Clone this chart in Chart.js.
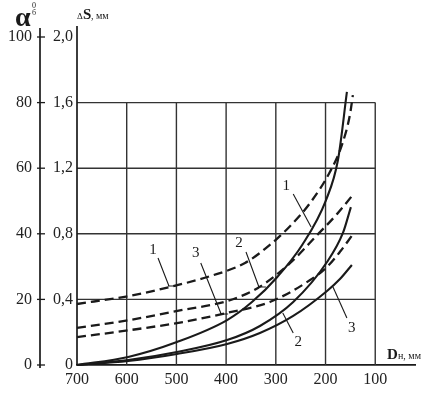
<!DOCTYPE html>
<html><head><meta charset="utf-8">
<script src="https://cdn.jsdelivr.net/npm/chart.js@4.4.1/dist/chart.umd.min.js"></script>
<style>html,body{margin:0;padding:0;background:#fff}#wrap{width:442px;height:394px}</style>
</head><body><div id="wrap"><canvas id="c" width="442" height="394"></canvas></div>
<script>
// Tick labels
const xTicks = [700, 600, 500, 400, 300, 200, 100];
const dsTicks = [0, 0.4, 0.8, 1.2, 1.6, 2.0];
const alphaTicks = [0, 20, 40, 60, 80, 100];
const gridD = [600, 500, 400, 300, 200, 100];
const gridS = [0.4, 0.8, 1.2, 1.6];

// Dashed curves (angle alpha, degrees)
const dashed1D = [700, 597, 513, 432, 362, 312, 271, 231, 191, 167, 151, 145];
const dashed1A = [18.6, 21.0, 23.8, 27.1, 31.1, 36.6, 42.4, 49.4, 58.9, 67.1, 76.2, 82.3];
const dashed2D = [700, 595, 487, 398, 336, 271, 217, 177, 147];
const dashed2A = [11.3, 13.7, 16.8, 19.5, 23.5, 31.1, 39.6, 46.0, 51.5];
const dashed3D = [700, 595, 487, 398, 312, 231, 197, 171, 147];
const dashed3A = [8.5, 10.6, 13.1, 15.9, 19.2, 25.9, 29.9, 34.5, 39.4];

// Solid curves (ΔS, mm)
const solid1D = [700, 597, 499, 398, 348, 297, 247, 199, 175, 157];
const solid1S = [0, 0.049, 0.140, 0.274, 0.384, 0.537, 0.732, 1.006, 1.250, 1.665];
const solid2D = [700, 597, 499, 398, 332, 265, 197, 165, 149];
const solid2S = [0, 0.030, 0.079, 0.152, 0.238, 0.384, 0.628, 0.805, 0.963];
const solid3D = [700, 597, 499, 398, 332, 265, 197, 171, 147];
const solid3S = [0, 0.024, 0.067, 0.128, 0.195, 0.299, 0.451, 0.524, 0.610];

// Curve labels: [text, D, ΔS of label centre, leader start D, ΔS, leader end D, ΔS, end serif]
const curveLabels = [
  ['1', 547, 0.701, 537, 0.652, 515, 0.482, true],
  ['3', 461, 0.683, 451, 0.622, 410, 0.311, true],
  ['2', 374, 0.744, 360, 0.689, 334, 0.476, true],
  ['1', 279, 1.091, 265, 1.043, 229, 0.841, false],
  ['2', 255, 0.140, 265, 0.195, 286, 0.317, false],
  ['3', 147, 0.226, 157, 0.287, 185, 0.476, false]
];

const pts = (xs, ys) => xs.map((v, i) => ({x: v, y: ys[i]}));
const FONT = "'Liberation Serif', 'Times New Roman', serif";
const INK = '#1a1a1a';

function line(data, axis, dashed) {
  return {
    data, yAxisID: axis, borderColor: INK, borderWidth: dashed ? 2.3 : 2.1,
    borderDash: dashed ? [9, 5] : [], pointRadius: 0, fill: false,
    cubicInterpolationMode: 'monotone', clip: false
  };
}

const overlay = {
  id: 'overlay',
  beforeDatasetsDraw(chart) {
    const {ctx, scales: {x, y, y2}} = chart;
    ctx.save();
    ctx.strokeStyle = '#333';
    ctx.lineWidth = 1.4;
    const y0 = y.getPixelForValue(0), yTop = y.getPixelForValue(1.6);
    const xL = x.getPixelForValue(700), xR = x.getPixelForValue(100);
    gridD.forEach(d => {
      const px = x.getPixelForValue(d);
      ctx.beginPath(); ctx.moveTo(px, y0); ctx.lineTo(px, yTop); ctx.stroke();
    });
    gridS.forEach(s => {
      const py = y.getPixelForValue(s);
      ctx.beginPath(); ctx.moveTo(xL, py); ctx.lineTo(xR, py); ctx.stroke();
    });
    // ΔS axis line
    ctx.strokeStyle = INK; ctx.lineWidth = 1.7;
    ctx.beginPath(); ctx.moveTo(xL, y.getPixelForValue(2.0) - 11); ctx.lineTo(xL, y0); ctx.stroke();
    // alpha axis line + crossing ticks
    const ax = y2.right;
    ctx.beginPath(); ctx.moveTo(ax, y2.getPixelForValue(100) - 9); ctx.lineTo(ax, y2.getPixelForValue(0) + 3); ctx.stroke();
    ctx.lineWidth = 1.3;
    alphaTicks.forEach(a => {
      const py = y2.getPixelForValue(a);
      ctx.beginPath(); ctx.moveTo(ax - 3, py); ctx.lineTo(ax + 5, py); ctx.stroke();
    });
    ctx.restore();
  },
  afterDraw(chart) {
    const {ctx, scales: {x, y}} = chart;
    ctx.save();
    ctx.fillStyle = INK;
    ctx.strokeStyle = INK;
    // curve labels and leaders
    ctx.lineWidth = 1.1;
    ctx.font = '15px ' + FONT;
    ctx.textAlign = 'center'; ctx.textBaseline = 'middle';
    curveLabels.forEach(([t, d, s, d1, s1, d2, s2, serif]) => {
      ctx.fillText(t, x.getPixelForValue(d), y.getPixelForValue(s));
      const ex = x.getPixelForValue(d2), ey = y.getPixelForValue(s2);
      ctx.beginPath();
      ctx.moveTo(x.getPixelForValue(d1), y.getPixelForValue(s1));
      ctx.lineTo(ex, ey);
      if (serif) { ctx.moveTo(ex - 1, ey); ctx.lineTo(ex + 7, ey); }
      ctx.stroke();
    });
    // axis titles
    ctx.textAlign = 'left'; ctx.textBaseline = 'alphabetic';
    const axL = x.getPixelForValue(700);
    ctx.font = 'bold 28px ' + FONT;
    ctx.fillText('α', 15, 26);
    ctx.font = '8px ' + FONT;
    ctx.fillText('0', 32, 8);
    ctx.fillText('б', 32, 15);
    ctx.font = '9px ' + FONT;
    ctx.fillText('Δ', axL, 19);
    ctx.font = 'bold 15px ' + FONT;
    ctx.fillText('S', axL + 6, 19);
    ctx.font = '10px ' + FONT;
    ctx.fillText(', мм', axL + 14, 19);
    ctx.font = 'bold 15px ' + FONT;
    ctx.fillText('D', 387, 359);
    ctx.font = '10px ' + FONT;
    ctx.fillText('н, мм', 398, 359);
    ctx.restore();
  }
};

new Chart(document.getElementById('c'), {
  type: 'line',
  data: {
    datasets: [
      line(pts(dashed1D, dashed1A), 'y2', true),
      line(pts(dashed2D, dashed2A), 'y2', true),
      line(pts(dashed3D, dashed3A), 'y2', true),
      line(pts(solid1D, solid1S), 'y', false),
      line(pts(solid2D, solid2S), 'y', false),
      line(pts(solid3D, solid3S), 'y', false)
    ]
  },
  options: {
    responsive: false, animation: false, devicePixelRatio: 1,
    layout: {padding: {left: 0, right: 27, top: 37, bottom: 0}},
    plugins: {legend: {display: false}, tooltip: {enabled: false}},
    scales: {
      x: {
        type: 'linear', reverse: true, min: 20, max: 700,
        grid: {display: false, drawTicks: false},
        border: {display: true, color: INK, width: 1.7},
        afterBuildTicks: s => { s.ticks = xTicks.map(v => ({value: v})); },
        afterFit: s => { s.height = 29; },
        ticks: {font: {family: FONT, size: 16}, color: '#222', padding: 5, maxRotation: 0, autoSkip: false,
                callback: v => String(v)}
      },
      y: {
        type: 'linear', position: 'left', min: 0, max: 2.0, weight: 0,
        grid: {display: false, drawTicks: false}, border: {display: false},
        afterBuildTicks: s => { s.ticks = dsTicks.map(v => ({value: v})); },
        afterFit: s => { s.width = 37; },
        ticks: {font: {family: FONT, size: 16}, color: '#222', padding: 4,
                callback: v => v === 0 ? '0' : Number(v).toFixed(1).replace('.', ',')}
      },
      y2: {
        type: 'linear', position: 'left', min: 0, max: 100, weight: 1,
        grid: {display: false, drawTicks: false}, border: {display: false},
        afterBuildTicks: s => { s.ticks = alphaTicks.map(v => ({value: v})); },
        afterFit: s => { s.width = 40; },
        ticks: {font: {family: FONT, size: 16}, color: '#222', padding: 8, callback: v => String(v)}
      }
    }
  },
  plugins: [overlay]
});
</script>
</body></html>
